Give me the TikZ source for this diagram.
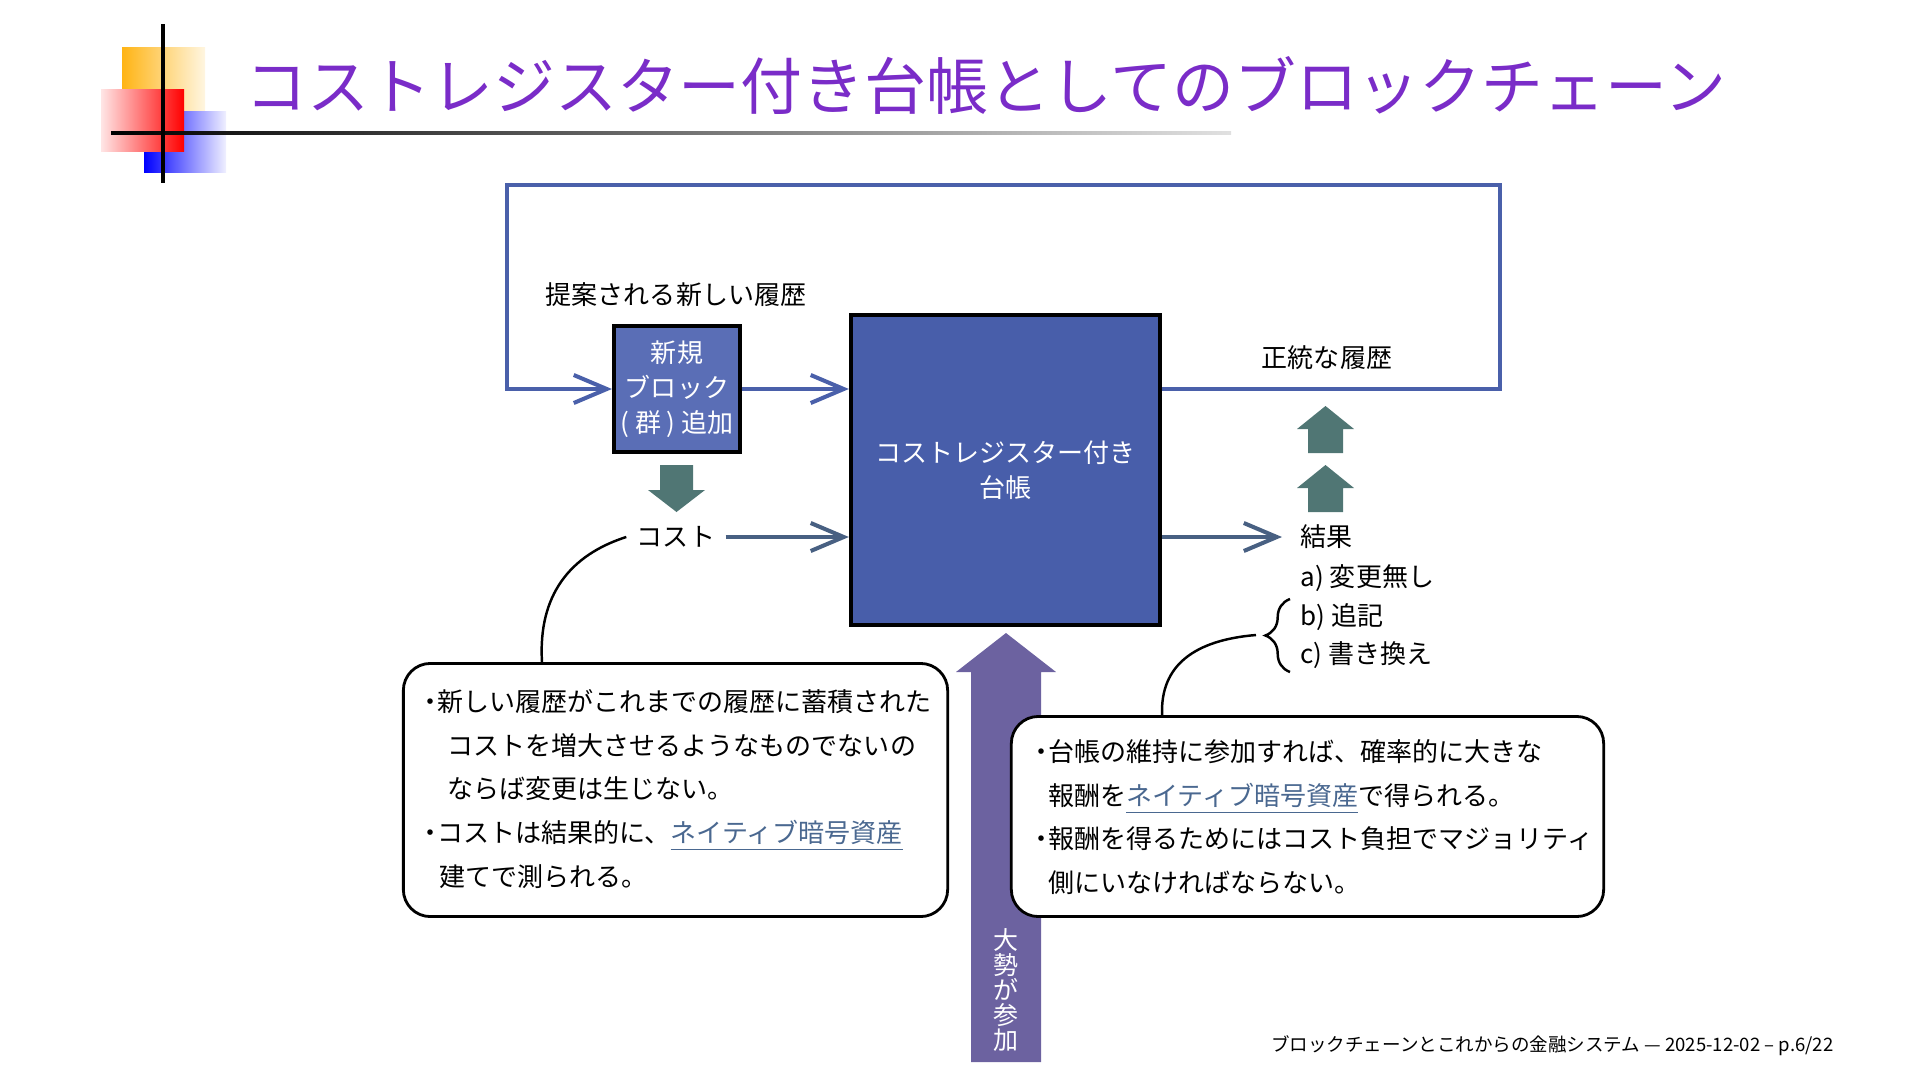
\documentclass[tikz,border=0pt]{standalone}
\usepackage{fontspec}
\setmainfont{Noto Sans CJK JP}
\usetikzlibrary{arrows.meta,decorations.pathreplacing}

\definecolor{titreviolet}{RGB}{122,44,200}
\definecolor{bleuboucle}{RGB}{74,96,170}
\definecolor{bleubloc}{RGB}{90,110,182}
\definecolor{bleulivre}{RGB}{72,94,170}
\definecolor{vertfleche}{RGB}{80,118,116}
\definecolor{ardoise}{RGB}{72,96,130}
\definecolor{violetfl}{RGB}{108,98,160}
\definecolor{lien}{RGB}{74,104,144}

\newcommand{\puce}{\makebox[0.5em][c]{・}}
\newcommand{\lien}[1]{\textcolor{lien}{\underline{#1}}}

\tikzset{
  etiq/.style={font=\fontsize{7.4}{10}\selectfont, inner sep=0pt},
  fleche/.style={line width=1.15pt, -{Straight Barb[length=3.3mm,width=2.8mm]}},
  bloc/.style={draw=black, line width=1.15pt, text=white, align=center, inner sep=0pt,
    font=\fontsize{7.4}{10}\selectfont},
  bulle/.style={draw=black, line width=0.8pt, rounded corners=0.27cm, fill=white},
  texte/.style={align=left, inner sep=0pt, font=\fontsize{7.4}{12.4}\selectfont},
  courbe/.style={line width=0.7pt}
}

\begin{document}
\begin{tikzpicture}[x=0.01cm,y=-0.01cm]
      \useasboundingbox (0,0) rectangle (1920,1081);
      % Logo et titre
      \shade[left color={rgb,255:red,255;green,180;blue,20}, right color={rgb,255:red,255;green,246;blue,225}] (122,47) rectangle (205,110);
      \shade[left color=blue, right color=blue!6] (144,111) rectangle (226,172);
      \shade[left color=red!10, right color=red] (101,89) rectangle (184,151);
      \shade[left color=black, right color=black!12] (111,131.5) rectangle (1231,134.5);
      \draw[line width=0.9pt] (163,24) -- (163,183);
      \node[anchor=west, inner sep=0pt, text=titreviolet, font=\fontsize{17.6}{20}\selectfont] (titre) at (245,86) {コストレジスター付き台帳としてのブロックチェーン};
      % Blocs principaux
      \node[bloc, fill=bleubloc, minimum width=1.26cm, minimum height=1.26cm] (nouveau) at (677,389) {新規\\ブロック\\( 群 ) 追加};
      \node[bloc, fill=bleulivre, minimum width=3.09cm, minimum height=3.10cm] (livre) at (1005.5,470) {コストレジスター付き\\台帳};
      \node[etiq] (propose) at (676,295) {提案される新しい履歴};
      \node[etiq] (canon) at (1327,358) {正統な履歴};
      \node[etiq, inner xsep=0.1cm] (cout) at (676,537) {コスト};
      \node[etiq, anchor=west, inner xsep=0.18cm] (resultat) at (1282,537) {結果};
      \node[etiq, anchor=west] (opta) at (1300,578) {a) 変更無し};
      \node[etiq, anchor=west] (optb) at (1300,617) {b) 追記};
      \node[etiq, anchor=west] (optc) at (1300,655) {c) 書き換え};
      % Boucle et fleches
      \coordinate (hautdroit) at (1500,185);
      \coordinate (hautgauche) at (507,185);
      \draw[fleche, bleuboucle] (livre.east |- nouveau) -| (hautdroit) -- (hautgauche) |- (nouveau.west);
      \draw[fleche, bleuboucle] (nouveau.east) -- (nouveau.east -| livre.west);
      \draw[fleche, ardoise] (cout.east) -- (cout.east -| livre.west);
      \draw[fleche, ardoise] (livre.east |- resultat) -- (resultat.west);
      % Fleches pleines
      \fill[vertfleche] (660,465) -- (693,465) -- (693,490) -- (705,490) -- (676.5,512) -- (648,490) -- (660,490) -- cycle;
      \foreach \y in {406,465} {
        \fill[vertfleche] (1308,\y+47) -- (1308,\y+23) -- (1297,\y+23) -- (1325.5,\y) -- (1354,\y+23) -- (1343,\y+23) -- (1343,\y+47) -- cycle;
      }
      \fill[violetfl] (971,1062) -- (971,672) -- (956,672) -- (1006,633) -- (1056,672) -- (1041,672) -- (1041,1062) -- cycle;
      \node[align=center, inner sep=0pt, text=white, font=\fontsize{7.1}{7.1}\selectfont] (majorite) at (1006,990) {大\\勢\\が\\参\\加};
      % Accolade
      \draw[line width=0.7pt, decorate, decoration={brace, amplitude=7pt}] (1290,672) -- (1290,599);
      \coordinate (accolade) at (1256,635);
      % Bulles
      \node[bulle, minimum width=5.44cm, minimum height=2.53cm] (bullegauche) at (675.5,790) {};
      \node[texte, anchor=west] (textegauche) at (423.5,789) {\puce 新しい履歴がこれまでの履歴に蓄積された\\\hspace*{0.9em}コストを増大させるようなものでないの\\\hspace*{0.9em}ならば変更は生じない。\\\puce コストは結果的に、\lien{ネイティブ暗号資産}\\\hspace*{0.6em}建てで測られる。};
      \node[bulle, minimum width=5.92cm, minimum height=2.00cm] (bulledroite) at (1307.5,816.5) {};
      \node[texte, anchor=west] (textedroite) at (1034.5,817) {\puce 台帳の維持に参加すれば、確率的に大きな\\\hspace*{0.5em}報酬を\lien{ネイティブ暗号資産}で得られる。\\\puce 報酬を得るためにはコスト負担でマジョリティ\\\hspace*{0.5em}側にいなければならない。};
      \coordinate (piedgauche) at (542,662);
      \draw[courbe] (piedgauche) .. controls (538,595) and (570,555) .. (cout.west);
      \draw[courbe] (bulledroite.north -| livre.east) .. controls (1160,665) and (1195,640) .. (accolade);
      % Pied de page
      \node[anchor=east, inner sep=0pt, font=\fontsize{5.27}{6}\selectfont] (pied) at (1834,1046) {ブロックチェーンとこれからの金融システム — 2025-12-02 – p.6/22};
\end{tikzpicture}
\end{document}
